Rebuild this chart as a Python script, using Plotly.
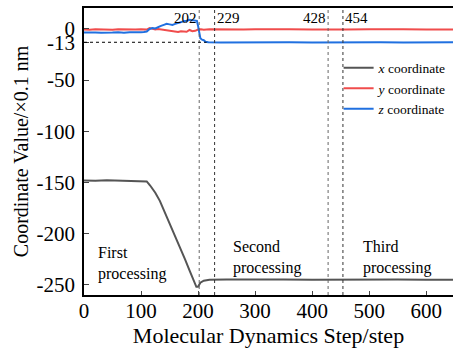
import plotly.graph_objects as go

# ---- data ----
x_steps = [0, 20, 40, 60, 80, 100, 110, 116, 125, 133, 140, 150, 160, 170, 177, 185, 192, 197, 200,
           204, 210, 220, 250, 300, 350, 400, 450, 500, 550, 600, 650]
x_coord = [-148, -148.3, -147.8, -148.2, -148, -148.3, -149, -153, -160, -168, -177, -189, -202, -215,
           -225, -236, -246, -252, -252, -248, -246, -245, -244.8, -245.2, -244.9, -245.1, -244.8,
           -245.1, -244.9, -245.1, -245]

y_steps = [0, 10, 20, 30, 40, 50, 60, 70, 80, 90, 100, 110, 115, 120, 125, 130, 140, 150, 160, 165,
           170, 180, 185, 190, 195, 200, 205, 210, 220, 240, 260, 280, 300, 330, 360, 400, 430, 460,
           500, 530, 560, 600, 630, 650]
y_coord = [-0.5, -0.8, -0.3, -0.6, -0.4, -0.7, -0.3, -0.6, -0.4, -0.5, -0.3, -0.6, 1.0, 0.2, -0.5, 0.0,
           -0.8, -1.5, -2.8, -3.0, -2.2, -2.8, -1.0, -2.2, -1.8, -0.6, -0.4, -0.8, -0.3, -0.6, -0.2,
           -0.5, -0.3, -0.6, -0.3, -0.5, -0.2, -0.5, -0.3, -0.6, -0.3, -0.5, -0.4, -0.4]

z_steps = [0, 10, 20, 30, 40, 50, 60, 70, 80, 90, 100, 105, 110, 115, 120, 125, 130, 135, 140, 145,
           150, 155, 160, 165, 170, 175, 180, 185, 190, 195, 198, 200, 202, 204, 207, 210, 213, 218,
           240, 280, 320, 360, 400, 440, 480, 520, 560, 600, 650]
z_coord = [-3.5, -3.8, -3.4, -3.6, -3.2, -3.5, -3.3, -3.6, -3.1, -3.4, -3.2, -3.0, -2.5, 0.0, 1.0,
           0.5, 2.0, 3.0, 4.0, 5.0, 4.5, 4.0, 5.0, 6.0, 7.0, 7.5, 8.0, 9.0, 8.5, 8.5, 8.0, 3.0, -4.0,
           -9.0, -10.5, -11.0, -12.5, -13.0, -13.2, -12.9, -13.1, -12.9, -13.1, -12.9, -13.1, -12.9,
           -13.1, -13.0, -13.0]

stage_marks = [202, 229, 428, 454]
stage_names = ["First<br>processing", "Second<br>processing", "Third<br>processing"]
stage_label_x = [21, 257, 485]
stage_label_y = [-229, -223, -223]

y_tickvals = [0, -13, -50, -100, -150, -200, -250]
y_ticktext = ["0", "-13", "-50", "-100", "-150", "-200", "-250"]
x_tickvals = [0, 100, 200, 300, 400, 500, 600]

FONT = "Liberation Serif"

fig = go.Figure()
fig.add_trace(go.Scatter(x=x_steps, y=x_coord, mode="lines", name="<i>x</i> coordinate",
                         line=dict(color="#555555", width=2)))
fig.add_trace(go.Scatter(x=y_steps, y=y_coord, mode="lines", name="<i>y</i> coordinate",
                         line=dict(color="#f04c4c", width=2)))
fig.add_trace(go.Scatter(x=z_steps, y=z_coord, mode="lines", name="<i>z</i> coordinate",
                         line=dict(color="#2070e0", width=2)))

# vertical stage lines
for i, s in enumerate(stage_marks):
    fig.add_shape(type="line", xref="x", yref="paper", x0=s, x1=s, y0=0, y1=1,
                  line=dict(color="#333333" if i % 2 else "#666666", width=1, dash="dot"))
    right = (i % 2 == 0)
    fig.add_annotation(x=s, y=1, xref="x", yref="paper", text=str(s), showarrow=False,
                       xanchor="right" if right else "left", yanchor="top",
                       xshift=0, yshift=0,
                       font=dict(family=FONT, size=15, color="black"))

# horizontal dotted line at -13
fig.add_shape(type="line", xref="x", yref="y", x0=0, x1=215, y0=-13, y1=-13,
              line=dict(color="black", width=1, dash="dot"))

for name, xx, yy in zip(stage_names, stage_label_x, stage_label_y):
    fig.add_annotation(x=xx, y=yy, xref="x", yref="y", text=name, showarrow=False,
                       xanchor="left", yanchor="middle", align="left",
                       font=dict(family=FONT, size=16, color="black"))

fig.update_layout(
    width=453, height=349,
    margin=dict(l=84, r=0, t=8, b=54, autoexpand=False),
    paper_bgcolor="white", plot_bgcolor="white",
    font=dict(family=FONT, size=21, color="black"),
    showlegend=True,
    legend=dict(x=0.69, y=0.845, xanchor="left", yanchor="top",
                bgcolor="rgba(0,0,0,0)", font=dict(family=FONT, size=13.5),
                tracegroupgap=0, itemwidth=30),
)
fig.update_xaxes(range=[0, 647], tickvals=x_tickvals, ticks="inside", ticklen=4,
                 showline=True, linecolor="black", linewidth=1.5, mirror=True,
                 showgrid=False, zeroline=False, automargin=False,
                 title=dict(text="Molecular Dynamics Step/step",
                            font=dict(family=FONT, size=22), standoff=2),
                 tickfont=dict(family=FONT, size=21), ticklabelstandoff=-4)
fig.update_yaxes(range=[-260, 20.5], tickvals=y_tickvals, ticktext=y_ticktext,
                 ticks="inside", ticklen=5, showline=True, linecolor="black", linewidth=1.5,
                 mirror=False, showgrid=False, zeroline=False, automargin=False,
                 title=dict(text="Coordinate Value/×0.1 nm",
                            font=dict(family=FONT, size=20), standoff=3),
                 tickfont=dict(family=FONT, size=21), ticklabelstandoff=3)

fig.write_html("out.html", config={"displayModeBar": False},
               post_script="document.body.style.margin='0';")
